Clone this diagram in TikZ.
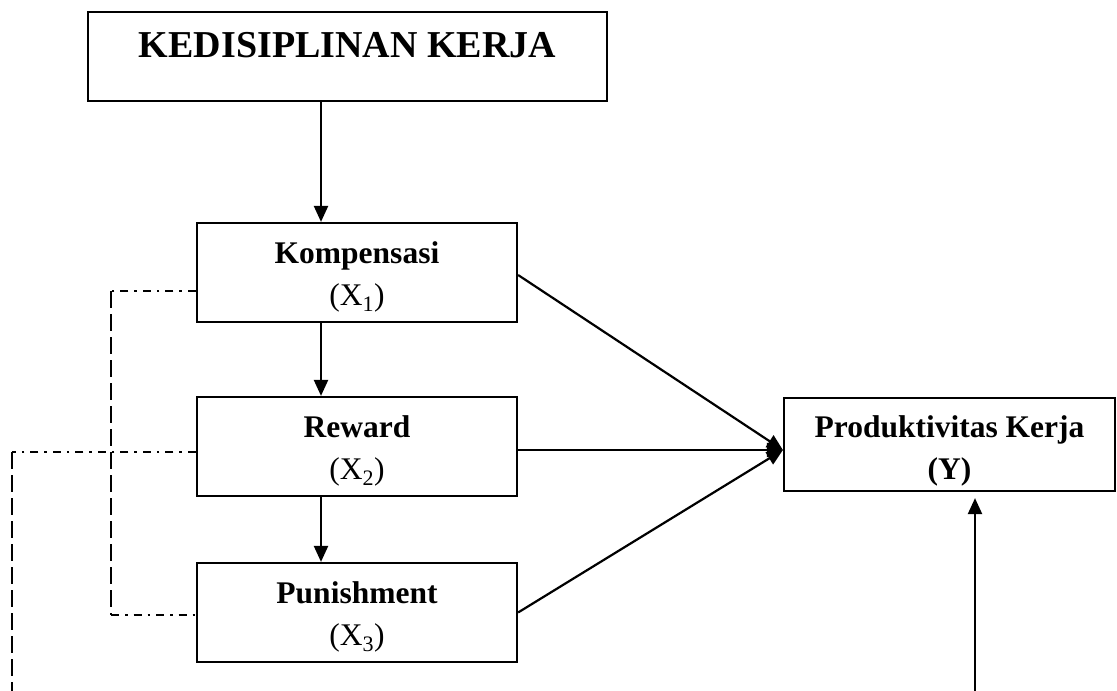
\documentclass[tikz,border=0pt]{standalone}
\usepackage{fontspec}
\setmainfont{Liberation Serif}
\usetikzlibrary{arrows.meta}
\tikzset{
    varbox/.style={draw, line width=2.2pt, minimum width=320pt, minimum height=99pt,
        inner sep=0pt, align=center, font=\fontsize{31.5}{42}\selectfont},
    arrowline/.style={line width=2.2pt, -{Triangle[length=16pt, width=14pt]}},
    dashdotline/.style={line width=2pt, dash pattern=on 8pt off 6pt on 2.5pt off 6pt},
    dashline/.style={line width=2pt, dash pattern=on 17pt off 6pt}
}
\begin{document}
\begin{tikzpicture}[x=1pt, y=-1pt]
        \useasboundingbox (0,0) rectangle (1117,691);

        \node [varbox, minimum width=519pt, minimum height=89pt, text height=26pt, text depth=24pt,
            font=\fontsize{38}{42}\selectfont\bfseries] (disiplin) at (347.5,56.5) {KEDISIPLINAN KERJA};

        \foreach \name/\txt/\i/\y in {komp/Kompensasi/1/272.5, rew/Reward/2/446.5, pun/Punishment/3/612.5} {
            \node [varbox] (\name) at (357,\y) {\rule{0pt}{31pt}\textbf{\txt}\\(X\textsubscript{\i})};
        }

        \node [varbox, minimum width=331pt, minimum height=93pt] (prod) at (949.5,444.5)
            {\rule{0pt}{34.5pt}\textbf{Produktivitas Kerja}\\\textbf{(Y)}};

        % vertical chain
        \coordinate (axis) at (321,0);
        \foreach \a/\b in {disiplin/komp, komp/rew, rew/pun} {
            \draw [arrowline] (\a.south -| axis) -- (\b.north -| axis);
        }

        % paths to Y
        \coordinate (meet) at ([yshift=-5.5pt]prod.west);
        \draw [arrowline] ([yshift=-2.5pt]komp.east) -- (meet);
        \draw [arrowline] (rew.east |- meet) -- (meet);
        \draw [arrowline] (pun.east) -- (meet);

        \coordinate (yfoot) at (975,691);
        \draw [arrowline, shorten >=6pt] (yfoot) -- (yfoot |- prod.south);

        % dashed links
        \coordinate (ldash) at (111,0);
        \coordinate (k1) at ([yshift=-18.5pt]komp.west);
        \coordinate (p1) at ([yshift=-2.5pt]pun.west);
        \draw [dashdotline] (k1) -- (k1 -| ldash);
        \draw [dashline] (k1 -| ldash) -- (p1 -| ldash);
        \draw [dashdotline] (p1 -| ldash) -- (p1);

        \coordinate (fdash) at (12,691);
        \coordinate (r1) at ([yshift=-5.5pt]rew.west);
        \draw [dashdotline] (r1) -- (r1 -| fdash);
        \draw [dashline] (r1 -| fdash) -- (fdash);
\end{tikzpicture}
\end{document}
